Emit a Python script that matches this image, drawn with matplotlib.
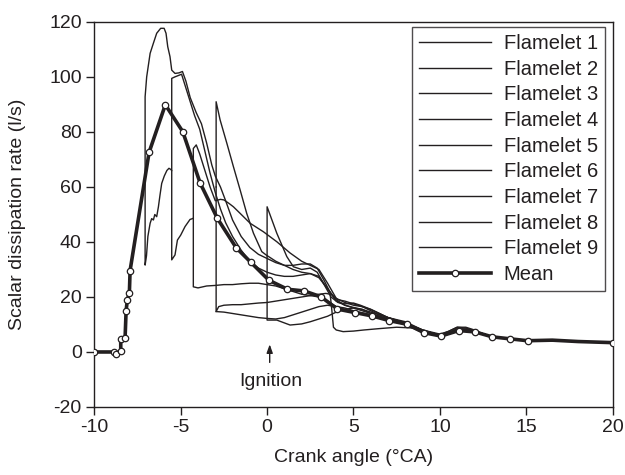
import matplotlib
matplotlib.use("Agg")
import matplotlib.pyplot as plt

plt.rcParams['font.family'] = ['Liberation Sans', 'DejaVu Sans']
plt.rcParams['axes.unicode_minus'] = False

INK = '#231f20'
FS = 14

# ---- data -------------------------------------------------------------
tail_x = [12.5, 13, 14, 15, 16, 17, 18, 19, 20]
tail_y = [6.6, 5.6, 4.8, 4.2, 4.1, 4.0, 3.8, 3.6, 3.5]

f1_x = [-7.06, -7.06, -6.97, -6.77, -6.58, -6.39, -6.16, -5.96, -5.85, -5.75, -5.62, -5.52,
        -5.33, -5.1, -4.9, -4.7, -4.45, -4.1, -3.8, -3.5, -3.2, -3.0, -2.7, -2.4, -2.0,
        -1.5, -1.0, -0.5, 0.0, 0.5, 1.0, 1.5, 2.0, 2.5, 2.9, 3.3, 3.7, 4.1, 4.5, 5.0, 5.5,
        6.0, 6.5, 7.0, 8.0, 9.0, 10.0, 10.5, 11.0, 11.5, 12.0]
f1_y = [63, 92.8, 100, 108.6, 112.3, 115.9, 117.7, 117.7, 115.9, 111, 107.4, 102.5,
        101.3, 101.5, 102, 98.5, 92.5, 87, 83, 76, 68, 64, 60, 55, 48,
        42, 38, 35.5, 34, 32.5, 31.5, 31.5, 32, 32, 30.5, 26, 21, 19, 18.5, 17.5, 16.5,
        15, 13.5, 12.5, 10.5, 8, 6.5, 7.5, 9, 9, 8]

f2_x = [-7.06, -7.06, -6.98, -6.9, -6.82, -6.77, -6.68, -6.58, -6.5, -6.39, -6.29, -6.2,
        -6.1, -5.95, -5.8, -5.68, -5.58, -5.52, -5.52, -5.33, -5.19, -5.0, -4.75, -4.46,
        -4.27, -4.27, -4.1, -3.9, -3.6, -3.3, -3.0, -2.7, -2.5, -2.2, -1.95, -1.56, -0.98,
        -0.21, 0.56, 1.33, 2.0, 2.5, 3.0, 3.5, 4.0, 4.5, 5.0, 5.5, 6.0, 6.5, 7.0, 8.0, 9.0,
        10.0, 10.5, 11.0, 11.5, 12.0]
f2_y = [63, 31.6, 35, 42, 45, 46.8, 48.5, 48, 50, 49.2, 52.8, 57,
        61.3, 64, 66, 66.8, 66.4, 66, 33.5, 35.3, 40.7, 42.5, 45.6, 48.2,
        48.6, 74, 75.3, 72, 66, 60, 55, 55.5, 55.3, 54, 52.8, 50.4, 46.8,
        43.7, 40.1, 36, 33, 31.5, 30, 25, 19.5, 18, 17, 16.5, 15.5, 14, 12.5, 11, 8,
        6, 7, 8, 8, 7.5]

f3_x = [-5.52, -5.52, -5.35, -5.15, -4.95, -4.75, -4.5, -4.2, -3.9, -3.6, -3.3, -3.0,
        -2.7, -2.4, -2.0, -1.5, -1.0, -0.5, 0.0, 0.5, 1.0, 1.5, 2.0, 2.5, 3.0, 3.5, 4.0,
        4.5, 5.0, 5.5, 6.0, 7.0, 8.0, 9.0, 10.0, 10.5, 11.0, 11.5, 12.0]
f3_y = [66, 99.5, 100, 100.5, 101, 97, 92, 86, 81, 73, 65, 58,
        52, 47, 42, 37, 33, 30.5, 29, 28, 27.5, 27.5, 28, 28.5, 27, 23, 18.5,
        17, 16, 15, 14, 12, 10, 7.5, 6, 6.5, 7.5, 7.8, 7.3]

f4_x = [-4.27, -4.27, -4.0, -3.5, -3.0, -2.5, -2.0, -1.5, -1.0, -0.5, 0.0, 0.5, 1.0, 1.5,
        2.0, 2.5, 3.0, 3.5, 4.0, 4.5, 5.0, 5.5, 6.0, 7.0, 8.0, 9.0, 10.0, 10.5, 11.0, 11.5, 12.0]
f4_y = [48.6, 23.7, 23.3, 24, 24.2, 24.5, 24.5, 24.8, 25, 25, 24.5, 24, 23, 22,
        21, 20.5, 20, 18.5, 16.5, 15.5, 14.5, 14, 13, 11.5, 10, 7, 5.8, 6.5, 7.8, 7.8, 7.3]

f5_x = [-2.95, -2.95, -2.72, -2.33, -1.95, -1.56, -1.18, -0.79, -0.31, -0.06, 0.5, 1.0,
        1.5, 2.0, 2.5, 3.0, 3.5, 4.0, 4.5, 5.0, 5.5, 6.0, 7.0, 8.0, 9.0, 10.0, 10.5, 11.0,
        11.5, 12.0]
f5_y = [60, 91, 84.4, 75.9, 67.4, 58.9, 50.4, 43.2, 36.5, 35.3, 33, 31.5,
        30, 29, 28.5, 27.5, 23, 19, 17, 16.2, 15.5, 14.5, 12.5, 10.5, 7.8, 6.2, 7, 8.5,
        8.4, 7.6]

f6_x = [-2.95, -2.95, -2.8, -2.5, -2.0, -1.5, -1.0, -0.5, 0.0, 0.5, 1.0, 1.5, 2.0, 2.5,
        3.0, 3.4, 3.65, 3.75, 3.84, 4.0, 4.4, 5.0, 5.6, 6.5, 7.5, 8.5, 8.9, 9.5, 10.0, 10.5,
        11.0, 11.5, 12.0]
f6_y = [60, 14.7, 16.5, 17, 17.2, 17.2, 17.5, 17.8, 18, 18.5, 19, 19.5, 20, 20.5,
        21, 21.3, 21, 15, 9, 8, 7.4, 7.6, 8, 8.5, 9, 8.7, 8, 6.5, 5.6, 6.5,
        7.5, 7.6, 7.2]

f7_x = [0.0, 0.0, 0.56, 1.33, 2.0, 2.5, 3.0, 3.5, 4.0, 4.5, 5.0, 5.5, 6.0, 6.5, 7.0,
        8.0, 9.0, 9.5, 10.0, 10.5, 11.0, 11.5, 12.0]
f7_y = [35, 11.6, 11.6, 9.8, 10.2, 11, 12, 13, 14.5, 15.5, 16, 15.5, 14, 13, 12,
        10.5, 8, 7, 6, 6.8, 8, 8, 7.3]

f8_x = [-2.95, -2.5, -2.0, -1.5, -1.0, -0.5, 0.0, 0.5, 1.0, 1.5, 2.0, 2.5, 3.0, 3.5,
        4.0, 4.5, 5.0, 6.0, 7.0, 8.0, 9.0, 10.0, 10.5, 11.0, 11.5, 12.0]
f8_y = [14.7, 14.5, 14, 13.5, 13, 12.5, 12.2, 12, 12.5, 13.5, 14.5, 15.5, 16.5, 17,
        16.5, 16, 15, 13.5, 11.8, 10.2, 7.5, 6, 7, 8.3, 8.2, 7.4]

f9_x = [0.0, 0.0, 0.56, 1.14, 1.52, 2.0, 2.5, 2.9, 3.3, 3.7, 4.1, 4.5, 5.0, 5.4, 6.0,
        6.5, 7.0, 8.0, 9.0, 10.0, 10.5, 11.0, 11.5, 12.0]
f9_y = [35, 52.8, 43.2, 34.7, 31, 30, 30.5, 29, 24.5, 20, 18, 17.5, 17.8, 17, 15.5,
        14, 12.5, 10.5, 7.8, 6.2, 7.5, 9, 8.7, 7.8]

mean_x = [-10, -8.86, -8.74, -8.47, -8.47, -8.22, -8.16, -8.09, -7.97, -7.93, -6.83,
          -5.89, -4.88, -3.88, -2.88, -1.79, -0.94, 0.10, 1.18, 2.14, 3.11, 4.07, 5.11,
          6.08, 7.08, 8.09, 9.09, 10.06, 11.1, 12.03, 13.03, 14.03, 15.07, 16.5, 18.0, 20]
mean_y = [0, 0, -0.7, 0.4, 4.6, 5.0, 15.0, 18.9, 21.6, 29.6, 72.6,
          89.9, 80.1, 61.5, 48.6, 37.9, 32.6, 26.1, 22.8, 22.2, 20.1, 15.6, 14.3,
          13.1, 11.4, 10.1, 7.0, 5.8, 7.8, 7.3, 5.5, 4.8, 4.1, 4.3, 3.8, 3.4]
mean_marked = [0, 1, 2, 3, 4, 5, 6, 7, 8, 9, 10, 11, 12, 13, 14, 15, 16, 17, 18, 19, 20,
               21, 22, 23, 24, 25, 26, 27, 28, 29, 30, 31, 32, 35]

flamelets = [(f1_x, f1_y), (f2_x, f2_y), (f3_x, f3_y), (f4_x, f4_y), (f5_x, f5_y),
             (f6_x, f6_y), (f7_x, f7_y), (f8_x, f8_y), (f9_x, f9_y)]
labels = ['Flamelet %d' % i for i in range(1, 10)]

x_ticks = [-10, -5, 0, 5, 10, 15, 20]
y_ticks = [-20, 0, 20, 40, 60, 80, 100, 120]

# ---- plot -------------------------------------------------------------
fig = plt.figure(figsize=(6.25, 4.75), dpi=100)
ax = fig.add_axes([0.1509, 0.1432, 0.8294, 0.8105])

for (fx, fy), lab in zip(flamelets, labels):
    ax.plot(fx + tail_x, fy + tail_y, color=INK, lw=1.0, label=lab, solid_joinstyle='round')

ax.plot(mean_x, mean_y, color=INK, lw=2.6, marker='o', markersize=4.6,
        markerfacecolor='white', markeredgecolor=INK, markeredgewidth=0.9,
        markevery=mean_marked, label='Mean', zorder=5)

ax.set_xlim(-10, 20)
ax.set_ylim(-20, 120)
ax.set_xticks(x_ticks)
ax.set_yticks(y_ticks)
ax.tick_params(direction='out', length=6, width=1, colors=INK, labelsize=FS,
               labelcolor=INK, pad=3)
for s in ax.spines.values():
    s.set_linewidth(1.0)
    s.set_color(INK)

ax.set_xlabel('Crank angle (\u00b0CA)', fontsize=FS, color=INK)
ax.set_ylabel('Scalar dissipation rate (l/s)', fontsize=FS, color=INK)
ax.yaxis.set_label_coords(-0.132, 0.5)
ax.xaxis.set_label_coords(0.5, -0.11)

ax.annotate('', xy=(0.15, 3.8), xytext=(0.15, -4.8),
            arrowprops=dict(arrowstyle='-|>,head_length=0.5,head_width=0.18',
                            color=INK, lw=1.0))
ax.text(0.2, -10.8, 'Ignition', ha='center', va='center', fontsize=FS, color=INK)

leg = ax.legend(loc='upper right', bbox_to_anchor=(0.985, 0.987), borderaxespad=0,
                fontsize=14.5, frameon=True, fancybox=False,
                edgecolor=INK, handlelength=3.55, handletextpad=0.65,
                labelspacing=0.33, borderpad=0.35,
                numpoints=1, labelcolor=INK)
leg.get_frame().set_linewidth(1.0)

fig.savefig('out.png', dpi=100)
